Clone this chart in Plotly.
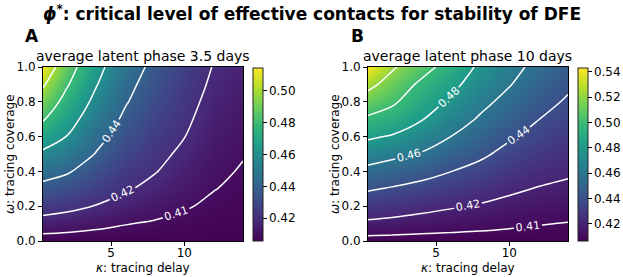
import plotly.graph_objects as go

# tracing delay (kappa, days) and tracing coverage (omega)
kappa = [0.33, 2, 4, 6, 8, 10, 12, 14]
omega = [0.0, 0.1, 0.2, 0.3, 0.4, 0.5, 0.6, 0.7, 0.8, 0.9, 1.0]

# phi* for average latent phase 3.5 days (rows: omega, cols: kappa)
phi_A = [
    [0.4062, 0.4062, 0.4062, 0.4062, 0.4062, 0.4062, 0.4062, 0.4062],
    [0.4153, 0.4139, 0.4120, 0.4103, 0.4092, 0.4083, 0.4074, 0.4069],
    [0.4253, 0.4231, 0.4195, 0.4159, 0.4130, 0.4106, 0.4088, 0.4077],
    [0.4355, 0.4323, 0.4261, 0.4211, 0.4169, 0.4130, 0.4102, 0.4086],
    [0.4461, 0.4415, 0.4326, 0.4251, 0.4205, 0.4154, 0.4115, 0.4094],
    [0.4570, 0.4506, 0.4392, 0.4291, 0.4231, 0.4178, 0.4129, 0.4104],
    [0.4692, 0.4596, 0.4447, 0.4331, 0.4257, 0.4202, 0.4142, 0.4115],
    [0.4815, 0.4670, 0.4502, 0.4371, 0.4283, 0.4219, 0.4155, 0.4126],
    [0.4918, 0.4742, 0.4556, 0.4410, 0.4308, 0.4236, 0.4168, 0.4137],
    [0.5024, 0.4815, 0.4608, 0.4441, 0.4334, 0.4253, 0.4182, 0.4149],
    [0.5140, 0.4880, 0.4650, 0.4480, 0.4360, 0.4270, 0.4195, 0.4160],
]

# phi* for average latent phase 10 days
phi_B = [
    [0.4068, 0.4068, 0.4068, 0.4068, 0.4068, 0.4068, 0.4068, 0.4068],
    [0.4174, 0.4162, 0.4146, 0.4134, 0.4124, 0.4113, 0.4104, 0.4097],
    [0.4294, 0.4271, 0.4240, 0.4212, 0.4188, 0.4165, 0.4149, 0.4136],
    [0.4417, 0.4386, 0.4347, 0.4307, 0.4267, 0.4222, 0.4193, 0.4176],
    [0.4551, 0.4512, 0.4463, 0.4402, 0.4350, 0.4288, 0.4245, 0.4217],
    [0.4688, 0.4644, 0.4588, 0.4501, 0.4430, 0.4353, 0.4297, 0.4258],
    [0.4828, 0.4786, 0.4702, 0.4600, 0.4506, 0.4419, 0.4350, 0.4299],
    [0.4972, 0.4915, 0.4810, 0.4687, 0.4581, 0.4484, 0.4402, 0.4340],
    [0.5108, 0.5030, 0.4887, 0.4774, 0.4646, 0.4549, 0.4453, 0.4382],
    [0.5256, 0.5122, 0.4964, 0.4851, 0.4708, 0.4609, 0.4503, 0.4425],
    [0.5435, 0.5226, 0.5075, 0.4923, 0.4769, 0.4652, 0.4554, 0.4470],
]

x_ticks = [5, 10]
y_ticks = [0.0, 0.2, 0.4, 0.6, 0.8, 1.0]
cbar_ticks_A = [0.42, 0.44, 0.46, 0.48, 0.50]
cbar_ticks_B = [0.42, 0.44, 0.46, 0.48, 0.50, 0.52, 0.54]
subtitles = ["average latent phase 3.5 days", "average latent phase 10 days"]
panel_letters = ["A", "B"]

W, H = 623, 277
FONT = "DejaVu Sans"

fig = go.Figure()

panels = [
    dict(z=phi_A, xa="x", ya="y", zmin=0.406, zmax=0.5147, cbx=253.3, ticks=cbar_ticks_A),
    dict(z=phi_B, xa="x2", ya="y2", zmin=0.4068, zmax=0.5435, cbx=577.7, ticks=cbar_ticks_B),
]

for p in panels:
    fig.add_trace(go.Heatmap(
        x=kappa, y=omega, z=p["z"], xaxis=p["xa"], yaxis=p["ya"],
        colorscale="Viridis", zmin=p["zmin"], zmax=p["zmax"], zsmooth="best",
        colorbar=dict(
            x=p["cbx"] / W, xanchor="left", xpad=0,
            y=(H - 154) / H, yanchor="middle", ypad=0,
            len=173 / H, lenmode="fraction",
            thickness=9.5, thicknessmode="pixels",
            outlinewidth=1, outlinecolor="#222",
            ticks="outside", ticklen=3.5, tickwidth=1, tickcolor="black",
            tickvals=p["ticks"], tickformat=".2f",
            tickfont=dict(size=12, family=FONT, color="black"),
        ),
        hoverinfo="skip",
    ))
    fig.add_trace(go.Contour(
        x=kappa, y=omega, z=p["z"], xaxis=p["xa"], yaxis=p["ya"],
        contours=dict(coloring="none", start=0.42, end=0.52, size=0.02,
                      showlabels=True, labelformat=".2f",
                      labelfont=dict(color="white", size=11, family=FONT)),
        line=dict(color="white", width=1.5, smoothing=1),
        showscale=False, hoverinfo="skip",
    ))
    fig.add_trace(go.Contour(
        x=kappa, y=omega, z=p["z"], xaxis=p["xa"], yaxis=p["ya"],
        contours=dict(coloring="none", start=0.41, end=0.41, size=0.01,
                      showlabels=True, labelformat=".2f",
                      labelfont=dict(color="white", size=11, family=FONT)),
        line=dict(color="white", width=1.5, smoothing=1),
        showscale=False, hoverinfo="skip",
    ))

ydom = [(H - 241) / H, (H - 67) / H]
axis_common = dict(showline=True, mirror=True, linecolor="black", linewidth=1,
                   ticks="outside", ticklen=3.5, tickwidth=1, tickcolor="black",
                   showgrid=False, zeroline=False, automargin=False,
                   tickfont=dict(size=12, family=FONT, color="black"))

fig.update_layout(
    width=W, height=H,
    margin=dict(l=0, r=0, t=0, b=0, autoexpand=False),
    paper_bgcolor="white", plot_bgcolor="white",
    font=dict(family=FONT, color="black"),
    showlegend=False,
    xaxis=dict(domain=[42.5 / W, 243 / W], range=[0.33, 14], tickvals=x_ticks, anchor="y",
               ticklabelstandoff=-3, **axis_common),
    yaxis=dict(domain=ydom, range=[0, 1], tickvals=y_ticks, tickformat=".1f", anchor="x", **axis_common),
    xaxis2=dict(domain=[367.5 / W, 568 / W], range=[0.33, 14], tickvals=x_ticks, anchor="y2",
                ticklabelstandoff=-3, **axis_common),
    yaxis2=dict(domain=ydom, range=[0, 1], tickvals=y_ticks, tickformat=".1f", anchor="x2", **axis_common),
)

ann = []
ann.append(dict(text="<b><i>ϕ</i><sup>*</sup>: critical level of effective contacts for stability of DFE</b>",
                x=0.5, y=(H - 13) / H, xref="paper", yref="paper", xanchor="center", yanchor="middle",
                showarrow=False, font=dict(size=17, family=FONT, color="black")))
for i, lx in enumerate([23, 349]):
    ann.append(dict(text="<b>%s</b>" % panel_letters[i], x=lx / W, y=(H - 36) / H,
                    xref="paper", yref="paper", xanchor="left", yanchor="middle",
                    showarrow=False, font=dict(size=17, family=FONT, color="black")))
plot_centers = [(42.5 + 243) / 2, (367.5 + 568) / 2]
ylab_x = [10, 335]
for i in range(2):
    ann.append(dict(text=subtitles[i], x=plot_centers[i] / W, y=(H - 56) / H,
                    xref="paper", yref="paper", xanchor="center", yanchor="middle",
                    showarrow=False, font=dict(size=14, family=FONT, color="black")))
    ann.append(dict(text="<i>κ</i>: tracing delay", x=plot_centers[i] / W, y=(H - 268) / H,
                    xref="paper", yref="paper", xanchor="center", yanchor="middle",
                    showarrow=False, font=dict(size=12, family=FONT, color="black")))
    ann.append(dict(text="<i>ω</i>: tracing coverage", x=ylab_x[i] / W, y=(H - 154) / H,
                    xref="paper", yref="paper", xanchor="center", yanchor="middle", textangle=-90,
                    showarrow=False, font=dict(size=12, family=FONT, color="black")))
fig.update_layout(annotations=ann)

fig.write_html("out.html", config={"displayModeBar": False},
               post_script="document.body.style.margin='0px';document.body.style.overflow='hidden';")
